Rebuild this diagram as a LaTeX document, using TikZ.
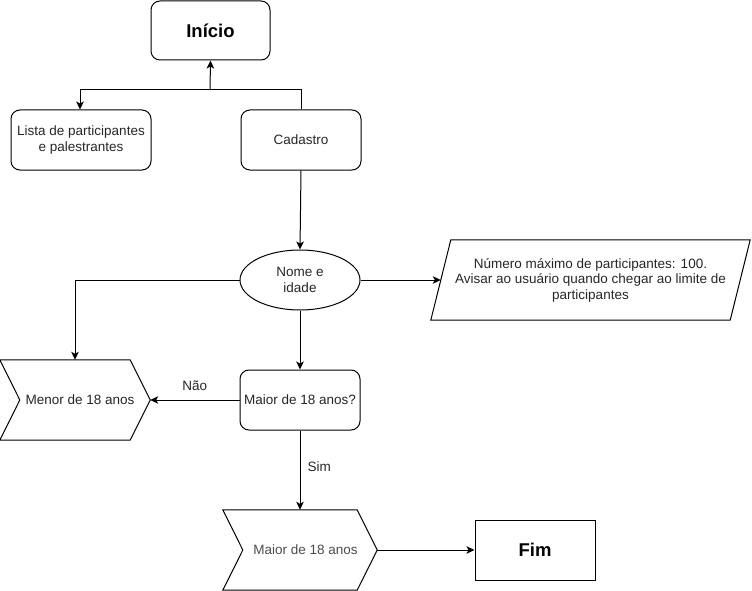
\documentclass[tikz,border=0pt]{standalone}
\usepackage{fontspec}
\setmainfont{Liberation Sans}
\usetikzlibrary{arrows.meta,shapes.geometric}
\begin{document}
\begin{tikzpicture}[x=1pt,y=-1pt,
  every node/.style={font=\fontsize{13.5}{15.5}\selectfont, text=black!85, align=center, inner sep=0pt},
  rbox/.style={draw, rounded corners=9pt, minimum width=120pt, minimum height=60pt, line width=1pt},
  sbox/.style={draw, minimum width=120pt, minimum height=60pt, line width=1pt},
  bigtext/.style={font=\fontsize{18.5}{21}\selectfont\bfseries, text=black},
  ell/.style={draw, ellipse, minimum width=120pt, minimum height=60pt, line width=1pt},
  plain/.style={draw=none},
  shp/.style={line width=1pt},
  conn/.style={line width=1pt, -{Stealth[length=8pt,width=7.5pt,inset=2pt]}},
  line/.style={line width=1pt},
  lbl/.style={font=\fontsize{13.5}{15.5}\selectfont}
]
\useasboundingbox (0,0) rectangle (752,591);

\node[rbox, bigtext, minimum width=119pt, minimum height=59pt] (inicio) at (210.5,30.5) {Início};
\node[rbox, minimum width=140pt] (lista) at (81,140) {Lista de participantes\\e palestrantes};
\node[rbox] (cad) at (301,140) {Cadastro};
\node[ell] (nome) at (300,280) {Nome e\\idade};

% parallelogram
\node[plain, minimum width=299pt, minimum height=80pt] (info) at (590.5,280) {Número máximo de participantes: 100.\\Avisar ao usuário quando chegar ao limite de\\participantes};
\draw[shp] ([xshift=10pt]info.north west) -- ([xshift=10pt]info.north east) -- ([xshift=-10pt]info.south east) -- ([xshift=-10pt]info.south west) -- cycle;
\coordinate (infoL) at (info.west);

\node[rbox] (maiorq) at (300,400) {Maior de 18 anos?};

% Menor chevron
\node[plain, minimum width=150pt, minimum height=80pt] (menor) at (75,400) {\hspace*{10pt}Menor de 18 anos};
\draw[shp] (menor.north west) -- ([xshift=-20pt]menor.north east) -- (menor.east) -- ([xshift=-20pt]menor.south east) -- (menor.south west) -- ([xshift=20pt]menor.west) -- cycle;

% Maior chevron
\node[plain, minimum width=154pt, minimum height=80pt, text=black!70] (maior) at (300,550) {\hspace*{11pt}Maior de 18 anos};
\draw[shp] (maior.north west) -- ([xshift=-20pt]maior.north east) -- (maior.east) -- ([xshift=-20pt]maior.south east) -- (maior.south west) -- ([xshift=20pt]maior.west) -- cycle;

\node[sbox, bigtext] (fim) at (535,550) {Fim};

% connectors
\coordinate (junc) at (210,90);
\draw[line] (cad.north) |- (junc);
\draw[conn] (junc) -- (inicio.south);
\draw[conn] (junc) -| ([xshift=-1pt]lista.north);
\draw[conn] (cad.south) -- (nome.north);
\draw[conn] (nome.east) -- (infoL);
\draw[conn] (nome.west) -| (menor.north);
\draw[conn] (nome.south) -- (maiorq.north);
\draw[conn] (maiorq.west) -- (menor.east) node[lbl, pos=0.5, above=9pt] {Não};
\draw[conn] (maiorq.south) -- (maior.north) node[lbl, pos=0.45, right=7pt] {Sim};
\draw[conn] (maior.east) -- (fim.west);
\end{tikzpicture}
\end{document}
